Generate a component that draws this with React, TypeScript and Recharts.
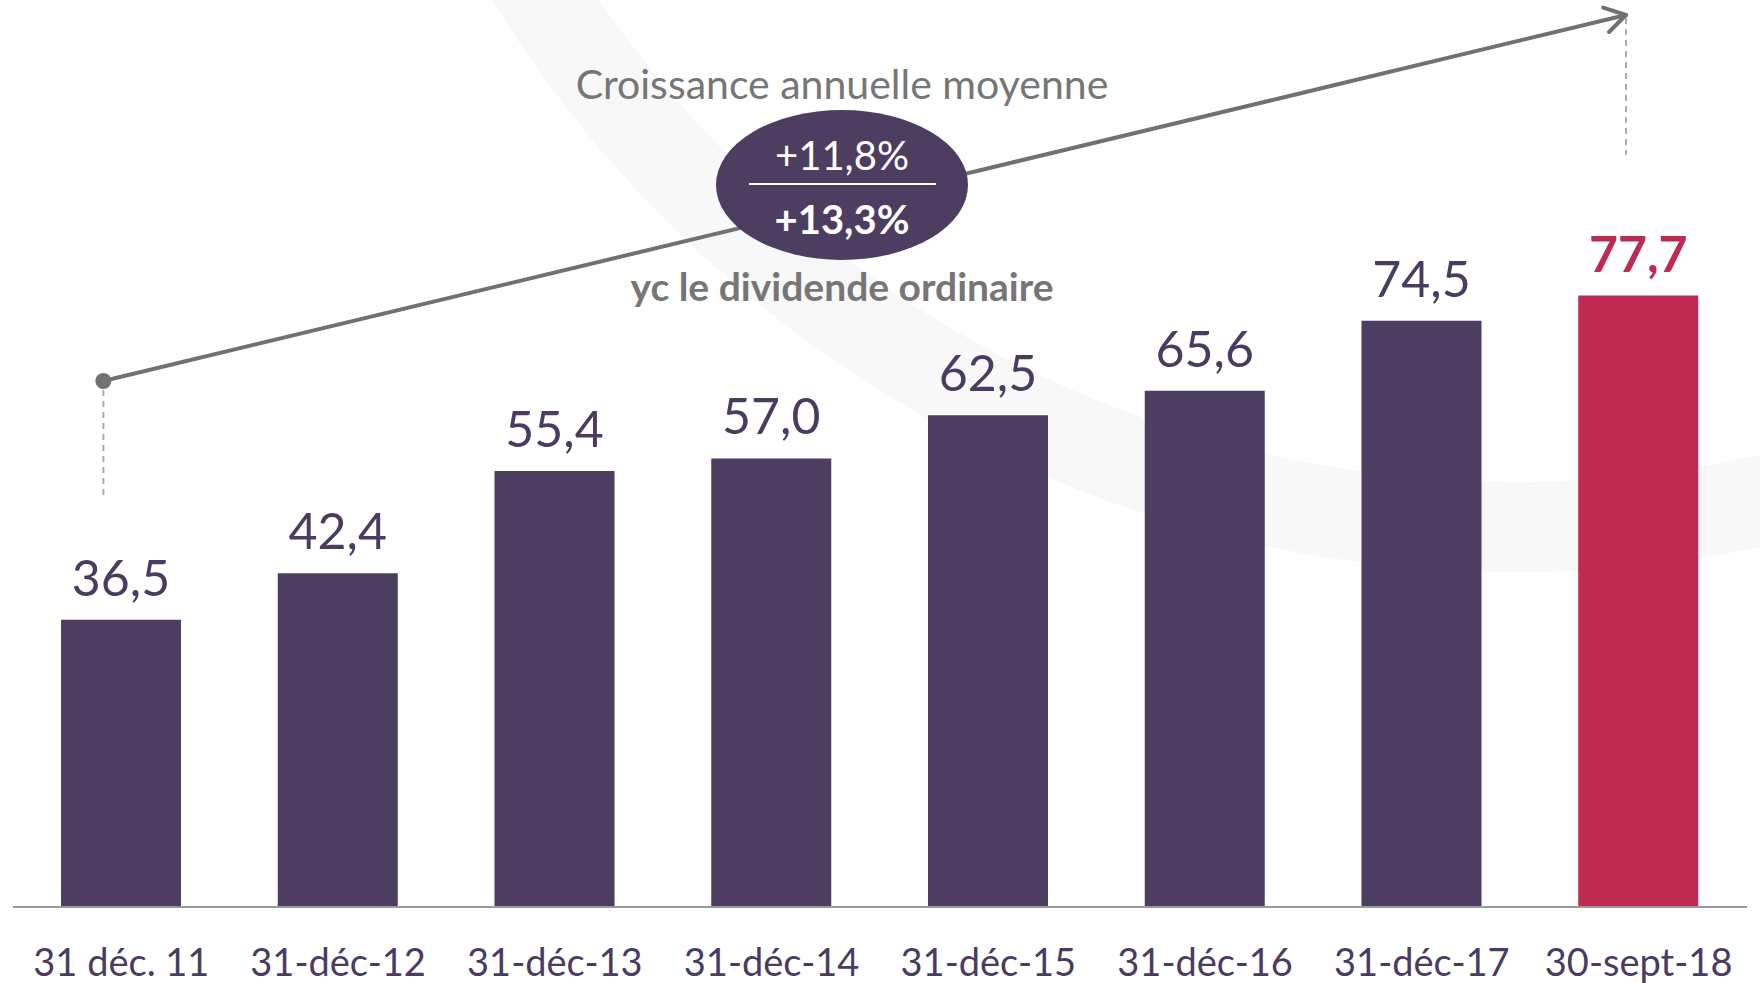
import { Bar, BarChart, Cell, LabelList, XAxis, YAxis } from "recharts";

const categories = [
  "31 déc. 11",
  "31-déc-12",
  "31-déc-13",
  "31-déc-14",
  "31-déc-15",
  "31-déc-16",
  "31-déc-17",
  "30-sept-18",
];
const values = [36.5, 42.4, 55.4, 57.0, 62.5, 65.6, 74.5, 77.7];
const highlightIndex = 7;

const titleText = "Croissance annuelle moyenne";
const growthRates = ["+11,8%", "+13,3%"];
const growthNote = "yc le dividende ordinaire";

const W = 1760;
const H = 983;
const M = { top: 120, right: 13, bottom: 0, left: 13 };
const AXIS_H = 76;
const PURPLE = "#4D3D61";
const RED = "#BE2A52";
const GREY = "#717171";
const FONT = "Lato, 'Open Sans', sans-serif";

const data = categories.map((date, i) => ({ date, value: values[i] }));

// centre x d'une catégorie, pour placer la flèche
const band = (W - M.left - M.right) / categories.length;
const cx = (i: number) => M.left + band * (i + 0.5);

const fmt = (v: number) => v.toFixed(1).replace(".", ",");

function DateTick({ x, y, payload }: any) {
  return (
    <text
      x={x}
      y={y}
      dy={69}
      textAnchor="middle"
      fill="#4A3C60"
      fontSize={38}
      fontFamily={FONT}
    >
      {payload.value}
    </text>
  );
}

function ValueLabel({ x, y, width, value, index }: any) {
  const hi = index === highlightIndex;
  return (
    <text
      x={x + width / 2}
      y={y - 24}
      textAnchor="middle"
      fill={hi ? RED : "#4A3C60"}
      fontWeight={hi ? 700 : 400}
      fontSize={50}
      fontFamily={FONT}
    >
      {fmt(Number(value))}
    </text>
  );
}

function Watermark() {
  return (
    <svg width={W} height={H} style={{ position: "absolute", left: 0, top: 0 }}>
      <circle cx={1515} cy={-629} r={1156} fill="none" stroke="#f8f8f8" strokeWidth={90} />
    </svg>
  );
}

function Annotation() {
  const x0 = cx(0) - 18;
  const y0 = 381;
  const x1 = cx(categories.length - 1) - 12.6;
  const y1 = 15;
  const a = Math.atan2(y1 - y0, x1 - x0);
  const arm = (s: number) => {
    const t = a + Math.PI + s * 0.55;
    return `${x1 + 24 * Math.cos(t)},${y1 + 24 * Math.sin(t)}`;
  };
  const ex = 842;
  const ey = 185;
  return (
    <svg
      width={W}
      height={H}
      style={{ position: "absolute", left: 0, top: 0, pointerEvents: "none" }}
    >
      <line x1={x0} y1={390} x2={x0} y2={495} stroke="#ababab" strokeWidth={2} strokeDasharray="6 5" />
      <line x1={x1} y1={18} x2={x1} y2={155} stroke="#ababab" strokeWidth={2} strokeDasharray="6 5" />
      <line x1={x0} y1={y0} x2={x1} y2={y1} stroke={GREY} strokeWidth={4} strokeLinecap="round" />
      <polyline
        points={`${arm(1)} ${x1},${y1} ${arm(-1)}`}
        fill="none"
        stroke={GREY}
        strokeWidth={4}
        strokeLinecap="round"
        strokeLinejoin="round"
      />
      <circle cx={x0} cy={y0} r={8} fill={GREY} />

      <text x={ex} y={99} textAnchor="middle" fill="#767676" fontSize={41} fontFamily={FONT}>
        {titleText}
      </text>
      <ellipse cx={ex} cy={ey} rx={126} ry={75} fill={PURPLE} />
      <text x={ex} y={170} textAnchor="middle" fill="#fff" fontSize={40} fontFamily={FONT}>
        {growthRates[0]}
      </text>
      <line x1={749} y1={184} x2={936} y2={184} stroke="#fff" strokeWidth={2} />
      <text
        x={ex}
        y={234}
        textAnchor="middle"
        fill="#fff"
        fontSize={40}
        fontWeight={700}
        fontFamily={FONT}
      >
        {growthRates[1]}
      </text>
      <text
        x={ex}
        y={301}
        textAnchor="middle"
        fill="#767676"
        fontSize={39}
        fontWeight={700}
        fontFamily={FONT}
      >
        {growthNote}
      </text>
    </svg>
  );
}

export default function App() {
  return (
    <div style={{ position: "absolute", left: 0, top: 0, width: W, height: H, background: "#fff" }}>
      <Watermark />
      <div style={{ position: "absolute", left: 0, top: 0 }}>
        <BarChart width={W} height={H} data={data} margin={M}>
          <XAxis
            dataKey="date"
            height={AXIS_H}
            tickLine={false}
            tickSize={0}
            tickMargin={0}
            axisLine={{ stroke: "#9a9a9a", strokeWidth: 2 }}
            tick={<DateTick />}
            interval={0}
          />
          <YAxis hide domain={[0, 100]} />
          <Bar dataKey="value" barSize={120} isAnimationActive={false}>
            {data.map((d, i) => (
              <Cell key={d.date} fill={i === highlightIndex ? RED : PURPLE} />
            ))}
            <LabelList dataKey="value" content={<ValueLabel />} />
          </Bar>
        </BarChart>
      </div>
      <Annotation />
    </div>
  );
}
